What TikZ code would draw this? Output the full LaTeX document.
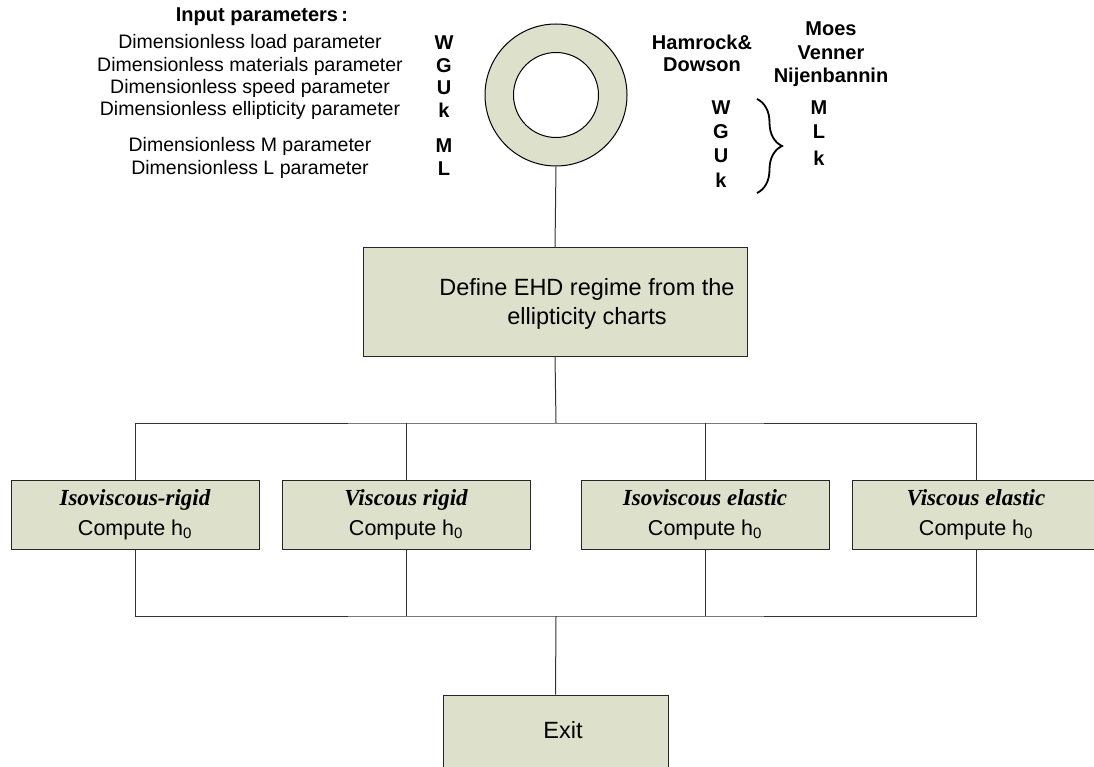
\documentclass[tikz,border=0pt]{standalone}
\usepackage{fontspec}
\setmainfont{Liberation Sans}
\newfontfamily\tms{Liberation Serif}
\usetikzlibrary{decorations.pathreplacing}
\definecolor{boxfill}{RGB}{221,224,203}
\newcommand\ttlfont{\fontsize{23}{30}\selectfont\tms\bfseries\itshape}
\tikzset{
  box/.style={draw=black!85, fill=boxfill, line width=1pt, inner sep=0pt,
    minimum width=248pt, minimum height=69pt, align=center,
    font=\fontsize{21.5}{30}\selectfont},
  conn/.style={draw=black!80, line width=1pt},
  desc/.style={font=\fontsize{19.5}{22}\selectfont, inner sep=0pt},
  bld/.style={font=\fontsize{20}{22}\selectfont\bfseries, inner sep=0pt},
  big/.style={font=\fontsize{23.5}{29}\selectfont, inner sep=0pt, align=center}
}
\begin{document}
\begin{tikzpicture}[x=1pt,y=-1pt]
\useasboundingbox (0,0) rectangle (1094,767);
\begin{scope}
\clip (0,0) rectangle (1094,767);

% input parameters
\node[bld] (ip) at (262,17) {Input parameters\,:};
\node[desc] (p1) at (250,43) {Dimensionless load parameter};
\node[desc] (p2) at (250,66) {Dimensionless materials parameter};
\node[desc] (p3) at (250,88) {Dimensionless speed parameter};
\node[desc] (p4) at (250,110) {Dimensionless ellipticity parameter};
\node[desc] (p5) at (250,146) {Dimensionless M parameter};
\node[desc] (p6) at (250,169) {Dimensionless L parameter};
\node[bld] (l1) at (444,43) {W};
\node[bld] (l2) at (444,66) {G};
\node[bld] (l3) at (444,88) {U};
\node[bld] (l4) at (444,110) {k};
\node[bld] (l5) at (444,146) {M};
\node[bld] (l6) at (444,169) {L};

% right texts
\node[bld] (hd1) at (702,42) {Hamrock\&};
\node[bld] (hd2) at (702,65) {Dowson};
\node[bld] (mv1) at (831,29) {Moes};
\node[bld] (mv2) at (831,53) {Venner};
\node[bld] (mv3) at (831,77) {Nijenbannin};
\node[bld] (hW) at (721,108) {W};
\node[bld] (hG) at (721,132) {G};
\node[bld] (hU) at (721,156) {U};
\node[bld] (hk) at (721,180) {k};
\node[bld] (mM) at (819,108) {M};
\node[bld] (mL) at (819,132) {L};
\node[bld] (mk) at (819,158) {k};
\coordinate (brT) at (757,99);
\coordinate (brB) at (757,193);
\draw[line width=1.8pt, decorate, decoration={brace, amplitude=25pt}] (brT) -- (brB);

% ring
\node[circle, draw=black, fill=boxfill, minimum size=142pt, inner sep=0pt, line width=1pt] (ring) at (556,95) {};
\node[circle, draw=black, fill=white, minimum size=85pt, inner sep=0pt, line width=1pt] (hole) at (556,95) {};

% define box
\node[box, minimum width=384pt, minimum height=108pt] (def) at (555,302) {};
\node[big] (deftxt) at (587,304) {Define EHD regime from the\\ellipticity charts};

% regime boxes
\node[box] (b1) at (135,514.5) {{\ttlfont Isoviscous-rigid}\\Compute h\textsubscript{0}};
\node[box] (b2) at (406,514.5) {{\ttlfont Viscous rigid}\\Compute h\textsubscript{0}};
\node[box] (b3) at (705,514.5) {{\ttlfont Isoviscous elastic}\\Compute h\textsubscript{0}};
\node[box] (b4) at (976,514.5) {{\ttlfont Viscous elastic}\\Compute h\textsubscript{0}};

% exit
\node[box, minimum width=225pt, minimum height=125pt] (exit) at (555.5,757.5) {};
\node[big] (exittxt) at (563,730) {Exit};

% connectors
\coordinate (tb) at (556,423);
\coordinate (lb) at (556,616);
\draw[conn] (ring.south) -- (def.north);
\draw[conn] (def.south) -- (tb);
\draw[conn] (b1.north) |- (tb) -| (b4.north);
\draw[conn] (b2.north) -- (b2.north |- tb);
\draw[conn] (b3.north) -- (b3.north |- tb);
\draw[conn] (b1.south) |- (lb) -| (b4.south);
\draw[conn] (b2.south) -- (b2.south |- lb);
\draw[conn] (b3.south) -- (b3.south |- lb);
\draw[conn] (lb) -- (exit.north);
\end{scope}
\end{tikzpicture}
\end{document}
